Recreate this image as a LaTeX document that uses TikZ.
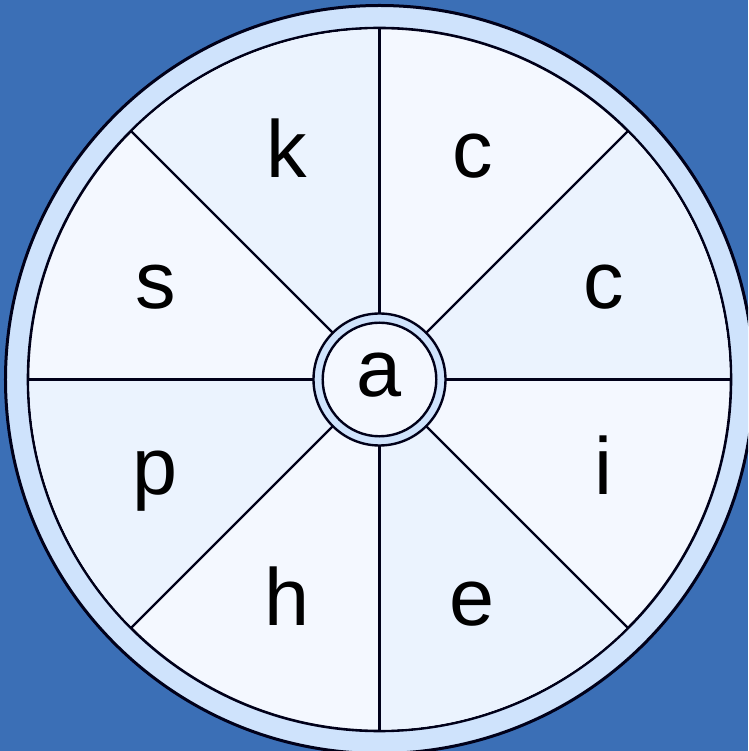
\documentclass[tikz,border=0pt]{standalone}
\usepackage{fontspec}
\setmainfont{Liberation Sans}
\definecolor{bgblue}{HTML}{3B6FB6}
\definecolor{ringblue}{HTML}{CFE3FC}
\definecolor{secA}{HTML}{EBF3FE}
\definecolor{secB}{HTML}{F4F8FF}
\definecolor{hubfill}{HTML}{F4F8FF}
\tikzset{
  lbl/.style={font=\fontsize{81}{81}\selectfont, anchor=base, inner sep=0pt, text=black},
  spoke/.style={draw=black!90!blue, line width=2.3pt},
  rim/.style={draw=black!90!blue, line width=2.6pt}
}
\begin{document}
\begin{tikzpicture}[x=1pt,y=1pt]
\useasboundingbox (-379.5,-371.5) rectangle (368.5,379.5);
\clip (-379.5,-371.5) rectangle (368.5,379.5);
\fill[bgblue] (-379.5,-371.5) rectangle (368.5,379.5);
% outer ring
\filldraw[fill=ringblue, rim, line width=3pt] (0,0) circle (374);
\filldraw[fill=secB, rim] (0,0) circle (351.5);
% darker sectors
\foreach \s in {0,90,180,270}{
  \fill[secA] (0,0) -- (\s:350.2) arc[start angle=\s, end angle=\s+45, radius=350.2] -- cycle;
}
% spokes
\foreach \a in {0,45,...,315}{
  \coordinate (in\a) at (\a:66);
  \coordinate (out\a) at (\a:351.5);
  \draw[spoke] (in\a) -- (out\a);
}
% hub
\filldraw[fill=ringblue, rim, line width=2.4pt] (0,0) circle (66);
\filldraw[fill=hubfill, rim, line width=2.4pt] (0,0) circle (56.8);
% labels
\node[lbl] (k)  at ([yshift=-22]112.5:242.5) {k};
\node[lbl] (c1) at ([yshift=-22]67.5:242.5) {c};
\node[lbl] (c2) at ([yshift=-22]22.5:242.5) {c};
\node[lbl] (i)  at ([yshift=-22]-22.5:242.5) {i};
\node[lbl] (e)  at ([yshift=-22]-67.5:242.5) {e};
\node[lbl] (h)  at ([yshift=-22]-112.5:242.5) {h};
\node[lbl] (p)  at ([yshift=-22]-157.5:242.5) {p};
\node[lbl] (s)  at ([yshift=-22]157.5:242.5) {s};
\node[lbl] (a)  at (0,-17.5) {a};
\end{tikzpicture}
\end{document}
